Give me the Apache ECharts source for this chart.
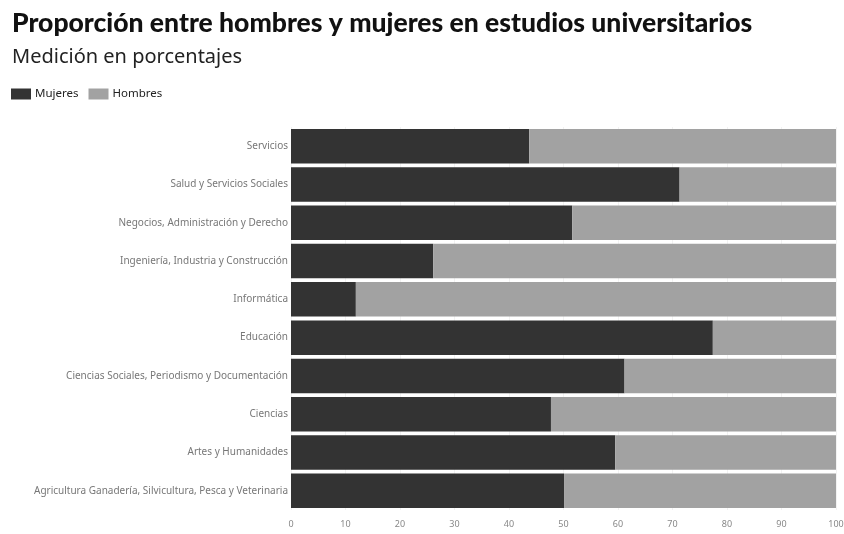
<!DOCTYPE html>
<html>
<head>
<meta charset="utf-8">
<script src="https://cdn.jsdelivr.net/npm/echarts@6/dist/echarts.min.js"></script>
<style>
  html, body { margin: 0; padding: 0; background: #fff; }
  #chart { width: 844px; height: 534px; }
</style>
</head>
<body>
<div id="chart"></div>
<script>
// Categories listed bottom to top (category axis is drawn upward)
const categories = [
  'Agricultura Ganadería, Silvicultura, Pesca y Veterinaria',
  'Artes y Humanidades',
  'Ciencias',
  'Ciencias Sociales, Periodismo y Documentación',
  'Educación',
  'Informática',
  'Ingeniería, Industria y Construcción',
  'Negocios, Administración y Derecho',
  'Salud y Servicios Sociales',
  'Servicios'
];
const mujeres = [50.1, 59.5, 47.7, 61.2, 77.4, 11.9, 26.1, 51.6, 71.3, 43.7];
const hombres = [49.9, 40.5, 52.3, 38.8, 22.6, 88.1, 73.9, 48.4, 28.7, 56.3];
const xTicks = [0, 10, 20, 30, 40, 50, 60, 70, 80, 90, 100];

const chart = echarts.init(document.getElementById('chart'));
const font = '"Source Sans Pro", "Noto Sans", Lato, sans-serif';

chart.setOption({
  backgroundColor: '#ffffff',
  animation: false,
  title: [
    {
      text: 'Proporción entre hombres y mujeres en estudios universitarios',
      left: 7, top: 5,
      textStyle: { fontFamily: 'Lato', fontWeight: 900, fontSize: 26.5, color: '#111' }
    },
    {
      text: 'Medición en porcentajes',
      left: 7, top: 42,
      textStyle: { fontFamily: font, fontWeight: 'normal', fontSize: 20, color: '#222' }
    }
  ],
  legend: {
    left: 6, top: 83,
    itemWidth: 20, itemHeight: 11, itemGap: 10,
    icon: 'rect',
    textStyle: { fontFamily: font, fontSize: 11.5, color: '#222', padding: [0, 0, 0, -1] },
    data: ['Mujeres', 'Hombres']
  },
  grid: { left: 291, right: 8, top: 127, bottom: 24, outerBoundsMode: 'none' },
  xAxis: {
    type: 'value',
    min: xTicks[0], max: xTicks[xTicks.length - 1], interval: 10,
    axisLine: { show: false },
    axisTick: { show: false },
    splitLine: { show: true, lineStyle: { color: '#f2f2f2', width: 1 } },
    axisLabel: { fontFamily: font, fontSize: 9, color: '#888', margin: 10 }
  },
  yAxis: {
    type: 'category',
    data: categories,
    axisLine: { show: false },
    axisTick: { show: false },
    axisLabel: { fontFamily: font, fontSize: 10, color: '#777', margin: 3 }
  },
  series: [
    {
      name: 'Mujeres', type: 'bar', stack: 'total',
      data: mujeres, barCategoryGap: '10%',
      itemStyle: { color: '#333333' }
    },
    {
      name: 'Hombres', type: 'bar', stack: 'total',
      data: hombres, barCategoryGap: '10%',
      itemStyle: { color: '#a2a2a2' }
    }
  ]
});
</script>
</body>
</html>
